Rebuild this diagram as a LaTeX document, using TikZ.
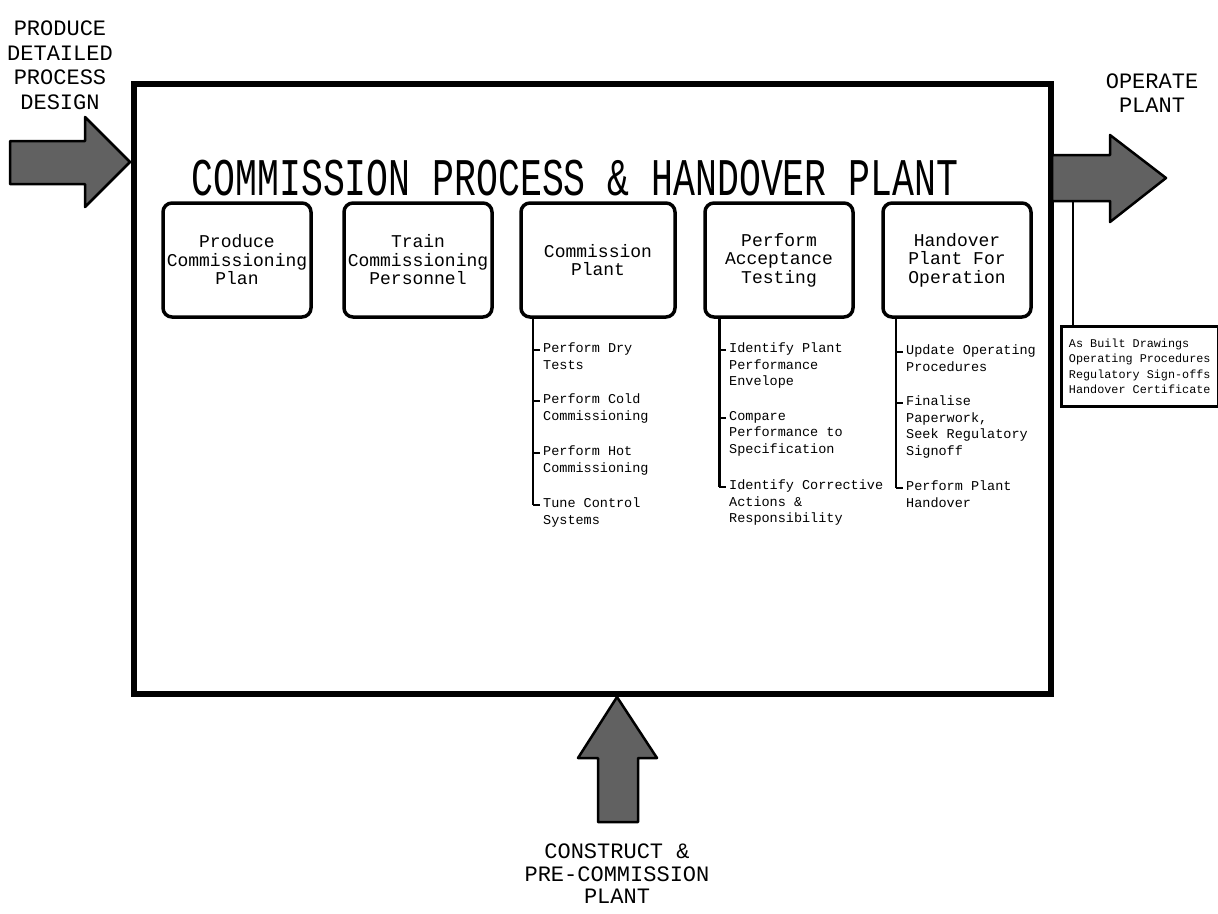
\documentclass[tikz,border=0pt]{standalone}
\usepackage{fontspec}
\setmainfont{Liberation Mono}
\begin{document}
\begin{tikzpicture}[x=1pt,y=-1pt,
  stepbox/.style={draw,line width=3.5pt,rounded corners=9pt,minimum width=148pt,minimum height=114pt,
    align=center,font=\fontsize{18}{18.5}\selectfont},
  subitem/.style={anchor=north west,align=left,inner sep=0pt,font=\fontsize{13.5}{16.5}\selectfont},
  label/.style={align=center,inner sep=0pt,font=\fontsize{22}{24.5}\selectfont},
  tree/.style={line width=2.2pt},
  bigarrow/.style={draw=black,line width=2.5pt,fill=black!62,line join=round}]
\useasboundingbox (0,0) rectangle (1218,913);

% main frame
\node[draw,line width=6pt,minimum width=917pt,minimum height=610pt,inner sep=0pt] (main) at (592,389) {};
\node (title) at (575,178) {\fontsize{36.5}{36.5}\selectfont\scalebox{1}[1.45]{COMMISSION PROCESS \& HANDOVER PLANT}};

% activity boxes
\node[stepbox] (b1) at (237,260) {Produce\\Commissioning\\Plan};
\node[stepbox] (b2) at (418,260) {Train\\Commissioning\\Personnel};
\node[stepbox,minimum width=154pt] (b3) at (598,260) {Commission\\Plant};
\node[stepbox] (b4) at (779,260) {Perform\\Acceptance\\Testing};
\node[stepbox] (b5) at (957,260) {Handover\\Plant For\\Operation};

% sub-activities of Commission Plant
\coordinate (t3a) at (533,350);
\coordinate (t3b) at (533,401);
\coordinate (t3c) at (533,453);
\coordinate (t3d) at (533,505);
\draw[tree] (533,318) -- (t3d);
\foreach \c/\t in {t3a/{Perform Dry\\Tests},t3b/{Perform Cold\\Commissioning},t3c/{Perform Hot\\Commissioning},t3d/{Tune Control\\Systems}}{
  \draw[tree] (\c) -- ++(7,0);
  \node[subitem] at ([shift={(10,-7)}]\c) {\t};
}

% sub-activities of Perform Acceptance Testing
\coordinate (t4a) at (719,350);
\coordinate (t4b) at (719,418);
\coordinate (t4c) at (719,487);
\draw[tree,line width=3pt] (719,318) -- (t4c);
\foreach \c/\t in {t4a/{Identify Plant\\Performance\\Envelope},t4b/{Compare\\Performance to\\Specification},t4c/{Identify Corrective\\Actions \&\\Responsibility}}{
  \draw[tree] (\c) -- ++(7,0);
  \node[subitem] at ([shift={(10,-7)}]\c) {\t};
}

% sub-activities of Handover Plant For Operation
\coordinate (t5a) at (896,352);
\coordinate (t5b) at (896,403);
\coordinate (t5c) at (896,488);
\draw[tree] (896,318) -- (t5c);
\foreach \c/\t in {t5a/{Update Operating\\Procedures},t5b/{Finalise\\Paperwork,\\Seek Regulatory\\Signoff},t5c/{Perform Plant\\Handover}}{
  \draw[tree] (\c) -- ++(7,0);
  \node[subitem] at ([shift={(10,-7)}]\c) {\t};
}

% input arrow
\draw[bigarrow] (10,141) -- (85,141) -- (85,117) -- (130,162) -- (85,207) -- (85,184) -- (10,184) -- cycle;
\node[label] (inlbl) at (60,65) {PRODUCE\\DETAILED\\PROCESS\\DESIGN};

% output arrow
\draw[bigarrow] (1052,155) -- (1110,155) -- (1110,135) -- (1166,178) -- (1110,222) -- (1110,201) -- (1052,201) -- cycle;
\node[label] (outlbl) at (1152,93) {OPERATE\\PLANT};

% deliverables box
\node[draw,line width=2.5pt,anchor=north west,minimum width=157pt,minimum height=80pt,inner sep=4pt,
  align=left,font=\fontsize{11.8}{15.5}\selectfont] (deliv) at (1060,325)
  {As Built Drawings\\Operating Procedures\\Regulatory Sign-offs\\Handover Certificate};
\draw[line width=2pt] (1073,201) -- (deliv.north west -| 1073,0);

% mechanism arrow
\draw[bigarrow] (598,822) -- (598,758) -- (578,758) -- (617,697) -- (657,758) -- (638,758) -- (638,822) -- cycle;
\node[label,font=\fontsize{22}{22.5}\selectfont] (botlbl) at (617,874) {CONSTRUCT \&\\PRE-COMMISSION\\PLANT};
\end{tikzpicture}
\end{document}
